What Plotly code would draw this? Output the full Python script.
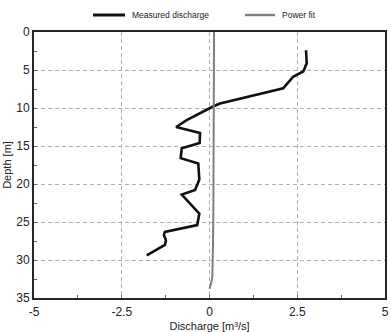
import plotly.graph_objects as go

# Measured discharge profile
meas_q = [2.75, 2.77, 2.67, 2.38, 2.10, 0.30, 0.10, -0.65, -0.95, -0.27, -0.28, -0.79, -0.82, -0.32,
          -0.29, -0.41, -0.79, -0.56, -0.29, -0.35, -1.27, -1.30, -1.24, -1.27, -1.79]
meas_depth = [2.4, 4.1, 5.2, 5.9, 7.4, 9.4, 9.8, 11.6, 12.5, 13.3, 14.6, 15.3, 16.6, 17.3,
              19.4, 20.8, 21.4, 22.5, 23.9, 25.4, 26.3, 26.7, 27.4, 28.0, 29.4]

# Power fit profile
fit_q = [0.13, 0.13, 0.12, 0.12, 0.11, 0.10, 0.09, 0.08, 0.05, 0.0]
fit_depth = [0.0, 10.0, 20.0, 23.3, 23.5, 28.0, 31.0, 32.2, 33.0, 33.8]

x_ticks = [-5, -2.5, 0, 2.5, 5]
x_labels = ["-5", "-2.5", "0", "2.5", "5"]
y_ticks = [0, 5, 10, 15, 20, 25, 30, 35]

series_names = ["Measured discharge", "Power fit"]
series_colors = ["#111111", "#7f7f7f"]
series_widths = [2.6, 2.0]

W, H = 391, 332
ML, MR, MT, MB = 34, 6, 32, 34
PW, PH = W - ML - MR, H - MT - MB

fig = go.Figure()
fig.add_trace(go.Scatter(x=meas_q, y=meas_depth, mode="lines", name=series_names[0],
                         line=dict(color=series_colors[0], width=series_widths[0])))
fig.add_trace(go.Scatter(x=fit_q, y=fit_depth, mode="lines", name=series_names[1],
                         line=dict(color=series_colors[1], width=series_widths[1])))

axis_common = dict(
    showline=True, linecolor="#262626", linewidth=1.8, mirror=True,
    showgrid=True, gridcolor="#b0b0b0", griddash="4px,3px", gridwidth=1,
    zeroline=False, ticks="inside", ticklen=3, tickcolor="#666666", automargin=False,
    tickfont=dict(family="Liberation Sans, Arial, sans-serif", size=12, color="#222222"),
)

# manual legend (above the plot area)
def px_x(p):
    return (p - ML) / PW

leg_y = (H - MB - 15) / PH
legend_pos = [(93, 125, 130), (245, 275, 280)]
shapes = []
annotations = []
for (x0, x1, xt), name, col, wd in zip(legend_pos, series_names, series_colors, series_widths):
    shapes.append(dict(type="line", xref="paper", yref="paper", x0=px_x(x0), x1=px_x(x1),
                       y0=leg_y, y1=leg_y, line=dict(color=col, width=wd + 0.4)))
    annotations.append(dict(xref="paper", yref="paper", x=px_x(xt), y=leg_y, text=name,
                            showarrow=False, xanchor="left", yanchor="middle",
                            font=dict(size=8.5, color="#222222")))

fig.update_layout(
    width=W, height=H,
    margin=dict(l=ML, r=MR, t=MT, b=MB, autoexpand=False),
    paper_bgcolor="white", plot_bgcolor="white",
    font=dict(family="Liberation Sans, Arial, sans-serif", color="#222222"),
    xaxis=dict(range=[-5, 5], tickvals=x_ticks, ticktext=x_labels, ticklabelstandoff=2,
               title=dict(text="Discharge [m³/s]", font=dict(size=11), standoff=5),
               minor=dict(dtick=1.25, ticks="inside", ticklen=3, tickcolor="#666666", showgrid=False),
               **axis_common),
    yaxis=dict(range=[35, 0], tickvals=y_ticks,
               title=dict(text="Depth [m]", font=dict(size=11), standoff=2),
               minor=dict(dtick=2.5, ticks="inside", ticklen=3, tickcolor="#666666", showgrid=False),
               **axis_common),
    shapes=shapes,
    annotations=annotations,
    showlegend=False,
)

fig.write_html("out.html")
